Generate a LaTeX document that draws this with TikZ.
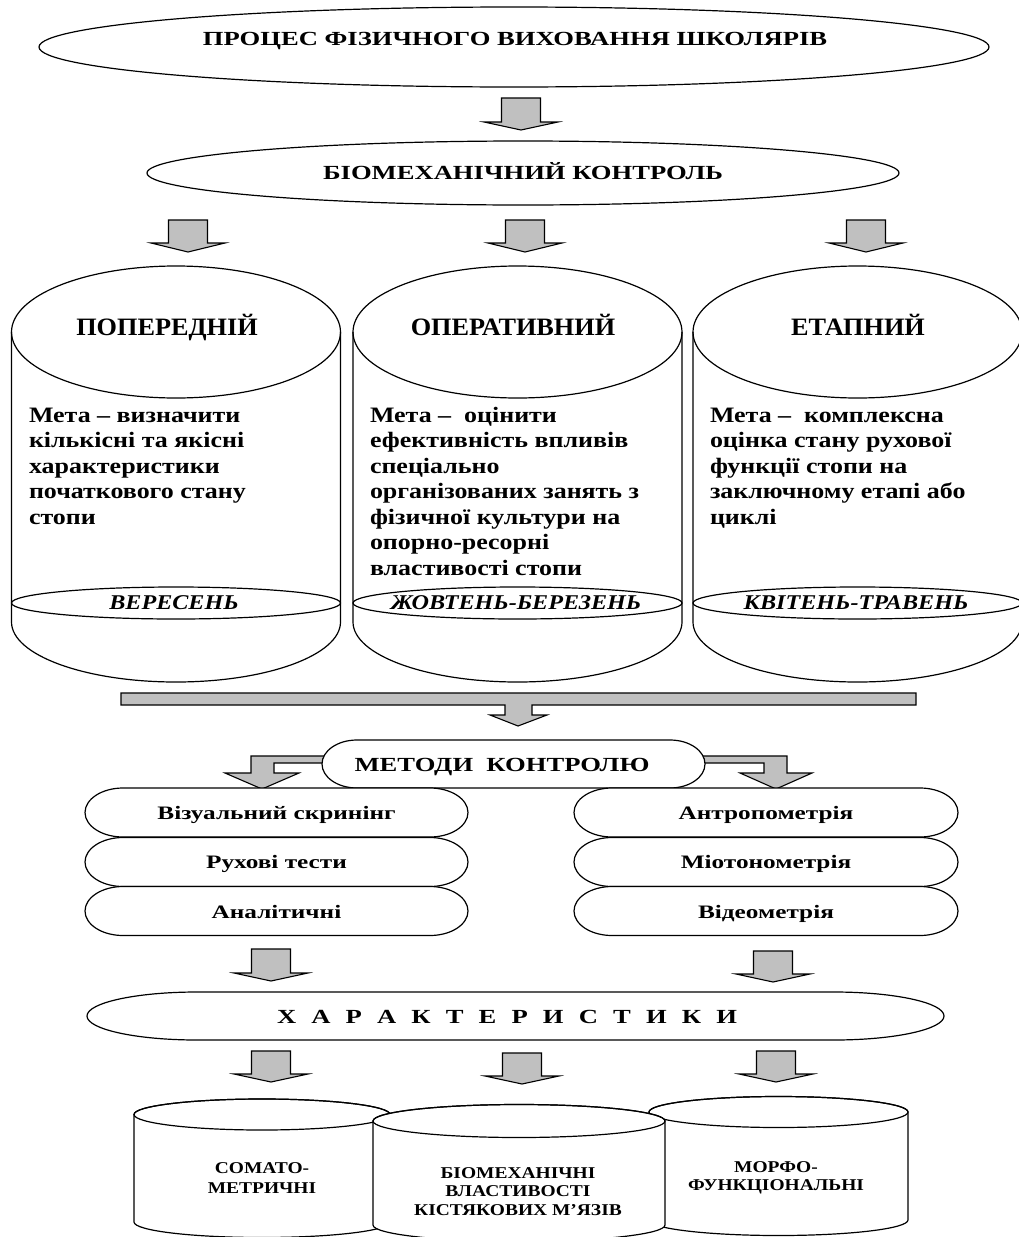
\documentclass[tikz,border=0pt]{standalone}
\usepackage{fontspec}
\setmainfont{Liberation Serif}
\newfontfamily\fA{Liberation Serif}[FakeStretch=1.33]
\newfontfamily\fB{Liberation Serif}[FakeStretch=1.05]
\newfontfamily\fC{Liberation Serif}[FakeStretch=1.18]
\newfontfamily\fD{Liberation Serif}[FakeStretch=1.15]
\usetikzlibrary{calc}
\definecolor{arrowgray}{RGB}{192,192,192}
\tikzset{
  outl/.style={draw=black, line width=1.2pt},
  blk/.style={draw=black, line width=1.1pt, fill=arrowgray, line join=miter},
  txt/.style={inner sep=0pt, outer sep=0pt},
}
\newcommand\lines[2][l]{\begin{tabular}[t]{@{}#1@{}}#2\end{tabular}}
% down block arrow: cx, top, head y, tip y
\newcommand\downarr[4]{\draw[blk] (#1-19.5,#2) -- (#1+19.5,#2) -- (#1+19.5,#3) -- (#1+37,#3) -- (#1,#4) -- (#1-37,#3) -- (#1-19.5,#3) -- cycle;}
% stadium: cx, cy, half width, half height, end radius
\newcommand\stadium[5]{\draw[outl,fill=white] (#1-#3+#5,#2-#4) -- (#1+#3-#5,#2-#4) arc[start angle=-90,end angle=90,x radius=#5,y radius=#4] -- (#1-#3+#5,#2+#4) arc[start angle=90,end angle=270,x radius=#5,y radius=#4] -- cycle;}
% big cylinder: cx
\newcommand\bigcyl[1]{%
  \draw[outl] (#1+164.5,332) -- (#1+164.5,622) arc[start angle=0,end angle=180,x radius=164.5,y radius=60] -- (#1-164.5,332);
  \draw[outl] (#1,332) ellipse[x radius=164.5, y radius=66];
  \draw[outl] (#1,603) ellipse[x radius=164.5, y radius=16];}
% small cylinder: cx, rx, top y, ry, bottom y
\newcommand\smallcyl[5]{%
  \draw[outl,fill=white] (#1-#2,#3) -- (#1-#2,#5) arc[start angle=180,end angle=0,x radius=#2,y radius=#4] -- (#1+#2,#3) arc[start angle=0,end angle=-180,x radius=#2,y radius=#4] -- cycle;
  \draw[outl] (#1,#3) ellipse[x radius=#2, y radius=#4];}
\begin{document}
\begin{tikzpicture}[x=1pt,y=-1pt]
\useasboundingbox (0,0) rectangle (1019,1237);
\clip (0,0) rectangle (1019,1237);
\fill[white] (0,0) rectangle (1019,1237);

% top ellipses
\draw[outl] (514,47) ellipse[x radius=475, y radius=40];
\node[txt, anchor=base, font=\fA\bfseries\fontsize{20}{24}\selectfont] (proc) at (515,45) {ПРОЦЕС ФІЗИЧНОГО ВИХОВАННЯ ШКОЛЯРІВ};
\downarr{521}{98}{122}{130}
\draw[outl] (523,173) ellipse[x radius=376, y radius=32];
\node[txt, anchor=base, font=\fA\bfseries\fontsize{20}{24}\selectfont] (bio) at (523,179) {БІОМЕХАНІЧНИЙ КОНТРОЛЬ};
\downarr{188}{220}{243}{252}
\downarr{525}{220}{243}{252}
\downarr{866}{220}{243}{252}

% big cylinders
\bigcyl{176}
\bigcyl{517.5}
\bigcyl{857.5}
\node[txt, anchor=base, font=\fB\bfseries\fontsize{25}{28}\selectfont] (t1) at (167,335) {ПОПЕРЕДНІЙ};
\node[txt, anchor=base, font=\fB\bfseries\fontsize{25}{28}\selectfont] (t2) at (513,335) {ОПЕРАТИВНИЙ};
\node[txt, anchor=base, font=\fB\bfseries\fontsize{25}{28}\selectfont] (t3) at (858,335) {ЕТАПНИЙ};
\node[txt, anchor=base west, font=\fC\bfseries\fontsize{22}{25.5}\selectfont] (g1) at (29,422) {\lines{Мета – визначити\\кількісні та якісні\\характеристики\\початкового стану\\стопи}};
\node[txt, anchor=base west, font=\fC\bfseries\fontsize{22}{25.5}\selectfont] (g2) at (370,422) {\lines{Мета –~~оцінити\\ефективність впливів\\спеціально\\організованих занять з\\фізичної культури на\\опорно-ресорні\\властивості стопи}};
\node[txt, anchor=base west, font=\fC\bfseries\fontsize{22}{25.5}\selectfont] (g3) at (710,422) {\lines{Мета –~~комплексна\\оцінка стану рухової\\функції стопи на\\заключному етапі або\\циклі}};
\node[txt, anchor=base, font=\fD\bfseries\itshape\fontsize{21}{24}\selectfont] (m1) at (174,609) {ВЕРЕСЕНЬ};
\node[txt, anchor=base, font=\fD\bfseries\itshape\fontsize{21}{24}\selectfont] (m2) at (516,609) {ЖОВТЕНЬ-БЕРЕЗЕНЬ};
\node[txt, anchor=base, font=\fD\bfseries\itshape\fontsize{21}{24}\selectfont] (m3) at (856,609) {КВІТЕНЬ-ТРАВЕНЬ};

% wide bar arrow
\draw[blk] (121,693) -- (916,693) -- (916,705) -- (532,705) -- (532,715) -- (547,715) -- (518,726) -- (490,715) -- (505,715) -- (505,705) -- (121,705) -- cycle;

% bent arrows
\draw[blk] (400,756) -- (251,756) -- (251,773) -- (225,773) -- (262,789) -- (299,773) -- (274,773) -- (274,763) -- (400,763) -- cycle;
\draw[blk] (620,756) -- (787,756) -- (787,773) -- (812,773) -- (776,789) -- (740,773) -- (764,773) -- (764,763) -- (620,763) -- cycle;
\stadium{513.5}{764}{191.5}{24}{35}
\node[txt, anchor=base, font=\fA\bfseries\fontsize{20}{24}\selectfont] (met) at (502,771) {МЕТОДИ~~КОНТРОЛЮ};

% method items
\stadium{276.5}{812.5}{191.5}{24.5}{38}
\stadium{276.5}{862}{191.5}{24.5}{38}
\stadium{276.5}{911}{191.5}{24.5}{38}
\stadium{766}{812.5}{192}{24.5}{38}
\stadium{766}{862}{192}{24.5}{38}
\stadium{766}{911}{192}{24.5}{38}
\node[txt, anchor=base, font=\fA\bfseries\fontsize{19}{22}\selectfont] (l1) at (276.5,819) {Візуальний скринінг};
\node[txt, anchor=base, font=\fA\bfseries\fontsize{19}{22}\selectfont] (l2) at (276.5,868.5) {Рухові тести};
\node[txt, anchor=base, font=\fA\bfseries\fontsize{19}{22}\selectfont] (l3) at (276.5,918) {Аналітичні};
\node[txt, anchor=base, font=\fA\bfseries\fontsize{19}{22}\selectfont] (r1) at (766,819) {Антропометрія};
\node[txt, anchor=base, font=\fA\bfseries\fontsize{19}{22}\selectfont] (r2) at (766,868.5) {Міотонометрія};
\node[txt, anchor=base, font=\fA\bfseries\fontsize{19}{22}\selectfont] (r3) at (766,918) {Відеометрія};

% characteristics
\downarr{271}{949}{973}{981}
\downarr{773}{951}{974}{982}
\stadium{515.5}{1016}{428.5}{24}{110}
\node[txt, anchor=base, font=\fA\bfseries\fontsize{20}{24}\selectfont] (har) at (507,1023) {\makebox[460pt][s]{Х А Р А К Т Е Р И С Т И К И}};
\downarr{271}{1051}{1074}{1082}
\downarr{522}{1053}{1076}{1084}
\downarr{776}{1051}{1074}{1082}

% bottom cylinders
\smallcyl{262}{128}{1114.5}{15.5}{1222}
\smallcyl{778.5}{129.5}{1112}{15.5}{1220}
\smallcyl{519}{146}{1121}{16.5}{1225}
\node[txt, anchor=base, font=\fC\bfseries\fontsize{16.5}{20}\selectfont] (b1) at (262,1173) {\lines[c]{СОМАТО-\\МЕТРИЧНІ}};
\node[txt, anchor=base, font=\fC\bfseries\fontsize{16.5}{18.5}\selectfont] (b2) at (518,1178) {\lines[c]{БІОМЕХАНІЧНІ\\ВЛАСТИВОСТІ\\КІСТЯКОВИХ М’ЯЗІВ}};
\node[txt, anchor=base, font=\fC\bfseries\fontsize{16.5}{18}\selectfont] (b3) at (776,1172) {\lines[c]{МОРФО-\\ФУНКЦІОНАЛЬНІ}};
\end{tikzpicture}
\end{document}
